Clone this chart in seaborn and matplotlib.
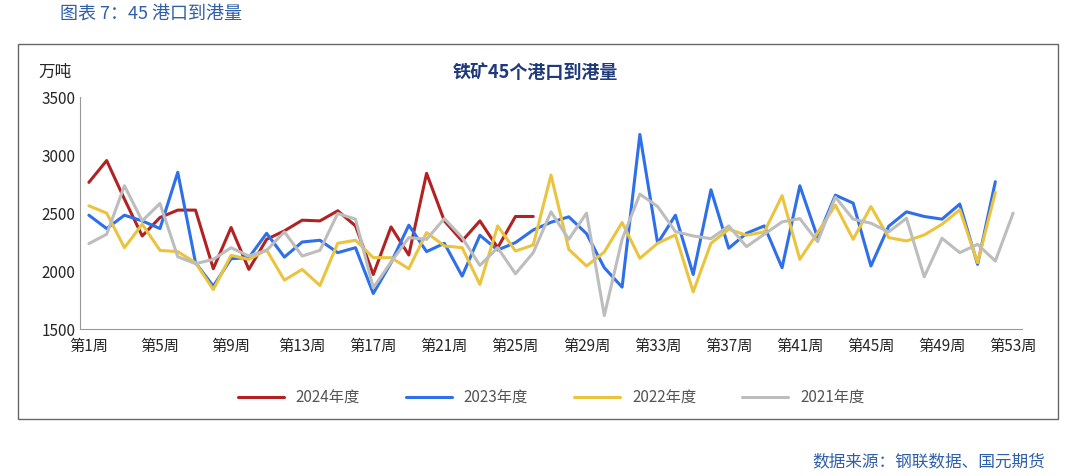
import numpy as np
import pandas as pd
import matplotlib.pyplot as plt
import seaborn as sns
from matplotlib.patches import Rectangle

weeks = list(range(1, 54))
tick_weeks = list(range(1, 54, 4))
tick_labels = [f"第{w}周" for w in tick_weeks]

y2024 = [2764, 2952, 2620, 2302, 2461, 2525, 2525, 2020, 2375, 2014, 2273, 2346, 2438,
         2432, 2519, 2389, 1970, 2380, 2138, 2842, 2432, 2259, 2432, 2201, 2470, 2470]
y2023 = [2481, 2366, 2481, 2432, 2366, 2851, 2071, 1869, 2106, 2115, 2325, 2120, 2250,
         2265, 2158, 2201, 1806, 2071, 2395, 2167, 2239, 1956, 2308, 2181, 2245, 2354,
         2420, 2467, 2322, 2028, 1861, 3177, 2239, 2481, 1970, 2700, 2196, 2325, 2389,
         2028, 2735, 2288, 2654, 2585, 2043, 2386, 2510, 2470, 2447, 2577, 2057, 2770]
y2022 = [2562, 2499, 2201, 2403, 2178, 2167, 2071, 1840, 2135, 2100, 2181, 1921, 2014,
         1875, 2239, 2265, 2115, 2115, 2020, 2331, 2216, 2201, 1884, 2389, 2172, 2224,
         2827, 2187, 2043, 2164, 2418, 2109, 2239, 2311, 1820, 2239, 2360, 2308, 2337,
         2649, 2100, 2331, 2568, 2273, 2556, 2288, 2259, 2311, 2403, 2528, 2071, 2677]
y2021 = [2236, 2317, 2735, 2432, 2582, 2123, 2063, 2100, 2201, 2129, 2178, 2337, 2129,
         2178, 2496, 2447, 1855, 2077, 2288, 2273, 2452, 2288, 2048, 2201, 1976, 2158,
         2510, 2273, 2499, 1616, 2273, 2663, 2556, 2340, 2302, 2279, 2389, 2210, 2317,
         2423, 2452, 2253, 2637, 2447, 2412, 2337, 2455, 1950, 2282, 2158, 2230, 2086,
         2499]

series = {"2024年度": y2024, "2023年度": y2023, "2022年度": y2022, "2021年度": y2021}
palette = {"2024年度": "#B22222", "2023年度": "#2E6FEA",
           "2022年度": "#EBC43F", "2021年度": "#BDBDBD"}

rows = []
for name, vals in series.items():
    for w, v in zip(weeks, vals):
        rows.append({"week": w, "value": v, "year": name})
df = pd.DataFrame(rows)

sns.set_style("white")
plt.rcParams["font.family"] = ["Noto Sans CJK SC", "DejaVu Sans"]

fig = plt.figure(figsize=(10.8, 4.77), dpi=100)
ax = fig.add_axes([80 / 1080, 1 - 330 / 477, 942 / 1080, 232 / 477])

sns.lineplot(data=df, x="week", y="value", hue="year", palette=palette,
             hue_order=list(series.keys()), linewidth=2.2, ax=ax, legend=True)

ax.set_xlim(0.5, 53.5)
ax.set_ylim(1500, 3500)
ax.set_yticks([1500, 2000, 2500, 3000, 3500])
ax.set_xticks(tick_weeks)
ax.set_xticklabels(tick_labels, fontsize=11)
ax.set_xticks(np.arange(0.5, 54, 1), minor=True)
ax.tick_params(axis="x", which="major", length=0, pad=6)
ax.tick_params(axis="x", which="minor", length=4, color="#999999", direction="out")
ax.tick_params(axis="y", labelsize=11, length=0)
ax.set_xlabel("")
ax.set_ylabel("")
for s in ["top", "right"]:
    ax.spines[s].set_visible(False)
for s in ["left", "bottom"]:
    ax.spines[s].set_color("#999999")

leg = ax.legend(loc="upper center", bbox_to_anchor=(0.5, -0.2), ncol=4,
                frameon=False, fontsize=11, handlelength=3, columnspacing=3)
for t in leg.get_texts():
    t.set_color("#555555")

fig.text(38 / 1080, 1 - 72 / 477, "万吨", fontsize=12, va="center")
fig.text(535 / 1080, 1 - 72 / 477, "铁矿45个港口到港量", fontsize=13, weight="bold",
         color="#1F3A7A", ha="center", va="center")
fig.text(60 / 1080, 1 - 14 / 477, "图表 7：45 港口到港量", fontsize=13,
         color="#2E5FA8", va="center")
fig.text(1045 / 1080, 1 - 462 / 477, "数据来源：钢联数据、国元期货", fontsize=12,
         color="#2E5FA8", ha="right", va="center")
fig.patches.append(Rectangle((18 / 1080, 1 - 420 / 477), 1040 / 1080, 375 / 477,
                             transform=fig.transFigure, fill=False,
                             edgecolor="#666666", linewidth=1))

fig.savefig("out.png", dpi=100)
